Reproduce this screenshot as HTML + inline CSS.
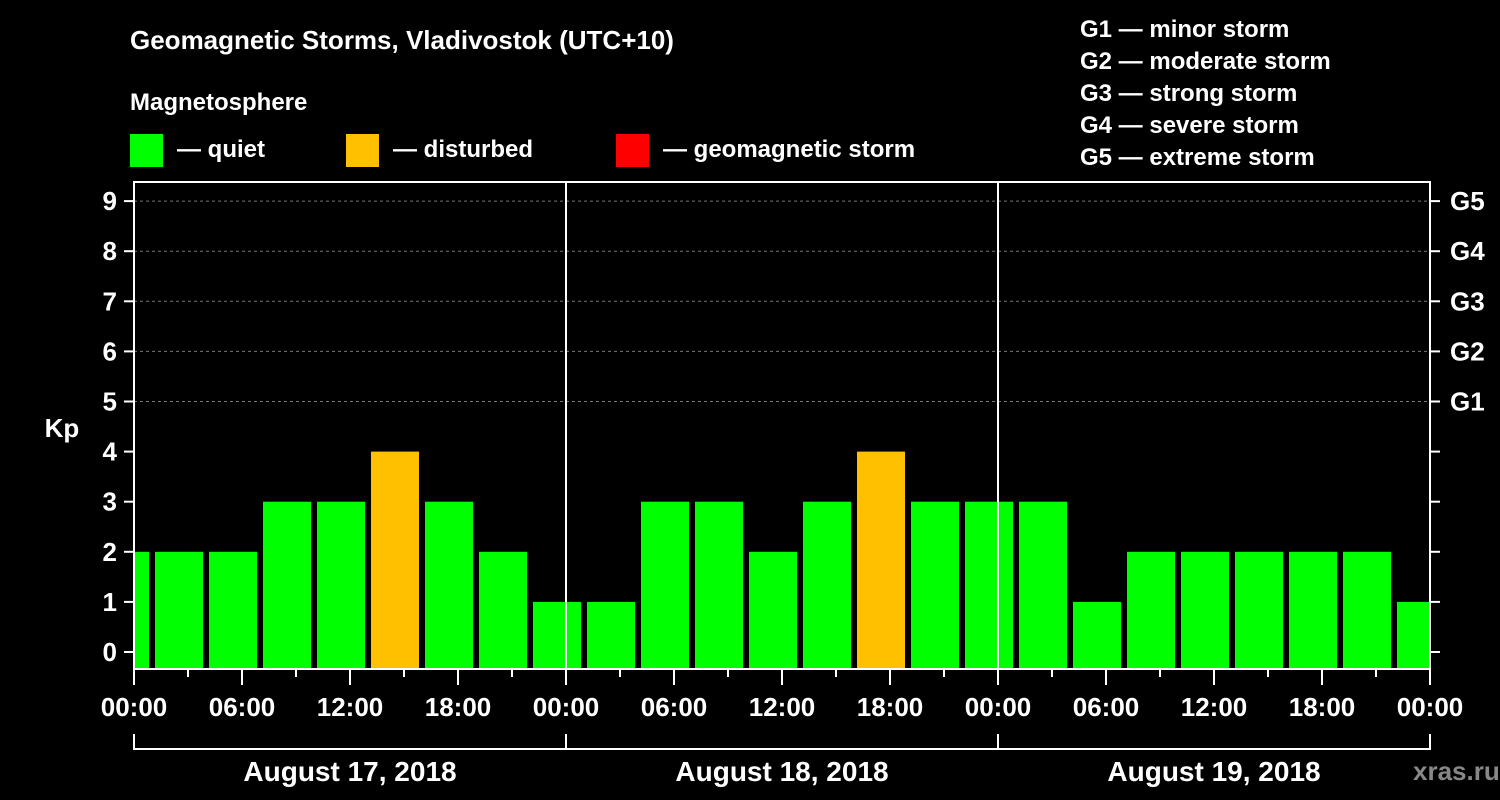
<!DOCTYPE html>
<html><head><meta charset="utf-8"><style>
html,body{margin:0;padding:0;background:#000;}
svg{display:block;font-family:"Liberation Sans",Arial,sans-serif;font-weight:bold;}
</style></head><body>
<svg id="chart" width="1500" height="800" viewBox="0 0 1500 800">
<rect width="1500" height="800" fill="#000"/>
<text x="130" y="49" fill="#fff" font-size="26">Geomagnetic Storms, Vladivostok (UTC+10)</text>
<text x="130" y="110" fill="#fff" font-size="24">Magnetosphere</text>
<g><rect x="130" y="134" width="33" height="33" fill="#00ff00"/><text x="177" y="157" fill="#fff" font-size="24">— quiet</text></g>
<g><rect x="346" y="134" width="33" height="33" fill="#ffc000"/><text x="393" y="157" fill="#fff" font-size="24">— disturbed</text></g>
<g><rect x="616" y="134" width="33" height="33" fill="#ff0000"/><text x="663" y="157" fill="#fff" font-size="24">— geomagnetic storm</text></g>
<g fill="#fff" font-size="24">
<text x="1080" y="37">G1 — minor storm</text>
<text x="1080" y="69">G2 — moderate storm</text>
<text x="1080" y="101">G3 — strong storm</text>
<text x="1080" y="133">G4 — severe storm</text>
<text x="1080" y="165">G5 — extreme storm</text>
</g>
<text x="62" y="437" fill="#fff" font-size="26" text-anchor="middle">Kp</text>
<text x="1413" y="780" fill="#888" font-size="26">xras.ru</text>
<g id="grid"></g><g id="bars"></g><g id="axes"></g>
</svg>
<script>
const kpValues=[2,2,2,3,3,4,3,2,1,1,3,3,2,3,4,3,3,3,1,2,2,2,2,2,1];
const barStartHours=[-2,1,4,7,10,13,16,19,22,25,28,31,34,37,40,43,46,49,52,55,58,61,64,67,70];
const dayLabels=["August 17, 2018","August 18, 2018","August 19, 2018"];
const timeLabels=["00:00","06:00","12:00","18:00"];
const gLabels=["G1","G2","G3","G4","G5"];
const NS="http://www.w3.org/2000/svg";
const L=134,R=1430,T=182,B=669;
const x=h=>L+(h/72)*(R-L);
const y=v=>652-v*50.1;
function mk(tag,attrs,parent,txt){const e=document.createElementNS(NS,tag);for(const k in attrs)e.setAttribute(k,attrs[k]);if(txt!==undefined)e.textContent=txt;document.getElementById(parent).appendChild(e);return e;}
for(let v=5;v<=9;v++){
 const e=mk('line',{x1:L,x2:R,y1:y(v),y2:y(v),stroke:'#777','stroke-dasharray':'3,3'},'grid');
 
 
}
kpValues.forEach((v,i)=>{
 const s=Math.max(0,barStartHours[i]),en=Math.min(72,barStartHours[i]+3);
 let x0=x(s)+(barStartHours[i]<0?0:3),x1=x(en)-(barStartHours[i]+3>72?0:3);
 if(barStartHours[i]<0)x0=x(0)+1;
 if(barStartHours[i]+3>72)x1=x(72);
 const col=v>=5?'#ff0000':(v>=4?'#ffc000':'#00ff00');
 const e=mk('rect',{x:x0,y:y(v),width:x1-x0,height:B-y(v),fill:col},'bars');
 
 
});
const fr=mk('rect',{x:L,y:T,width:R-L,height:B-T,fill:'none',stroke:'#fff','stroke-width':2},'axes');


[1,2].forEach(d=>{const e=mk('line',{x1:x(d*24),x2:x(d*24),y1:T,y2:B,stroke:'#fff','stroke-width':2},'axes');
 
 });
for(let v=0;v<=9;v++){
 mk('line',{x1:L-10,x2:L,y1:y(v),y2:y(v),stroke:'#fff','stroke-width':2},'axes');
 mk('line',{x1:R,x2:R+10,y1:y(v),y2:y(v),stroke:'#fff','stroke-width':2},'axes');
 const t=mk('text',{x:L-17,y:y(v)+9,fill:'#fff','font-size':26,'text-anchor':'end'},'axes',String(v));
 
 
}
gLabels.forEach((g,i)=>{const t=mk('text',{x:R+20,y:y(5+i)+9,fill:'#fff','font-size':26},'axes',g);
 
 });
for(let h=0;h<=72;h+=3){
 const long=h%6===0;
 mk('line',{x1:x(h),x2:x(h),y1:B,y2:B+(long?16:8),stroke:'#fff','stroke-width':2},'axes');
 if(long){const t=mk('text',{x:x(h),y:716,fill:'#fff','font-size':26,'text-anchor':'middle'},'axes',timeLabels[(h/6)%4]);
 
 }
}
mk('line',{x1:x(0),x2:x(72),y1:749,y2:749,stroke:'#fff','stroke-width':2},'axes');
for(let d=0;d<=3;d++)mk('line',{x1:x(d*24),x2:x(d*24),y1:734,y2:750,stroke:'#fff','stroke-width':2},'axes');
dayLabels.forEach((lab,d)=>{const t=mk('text',{x:x(d*24+12),y:781,fill:'#fff','font-size':28,'text-anchor':'middle'},'axes',lab);
 
 });
</script>
</body></html>
